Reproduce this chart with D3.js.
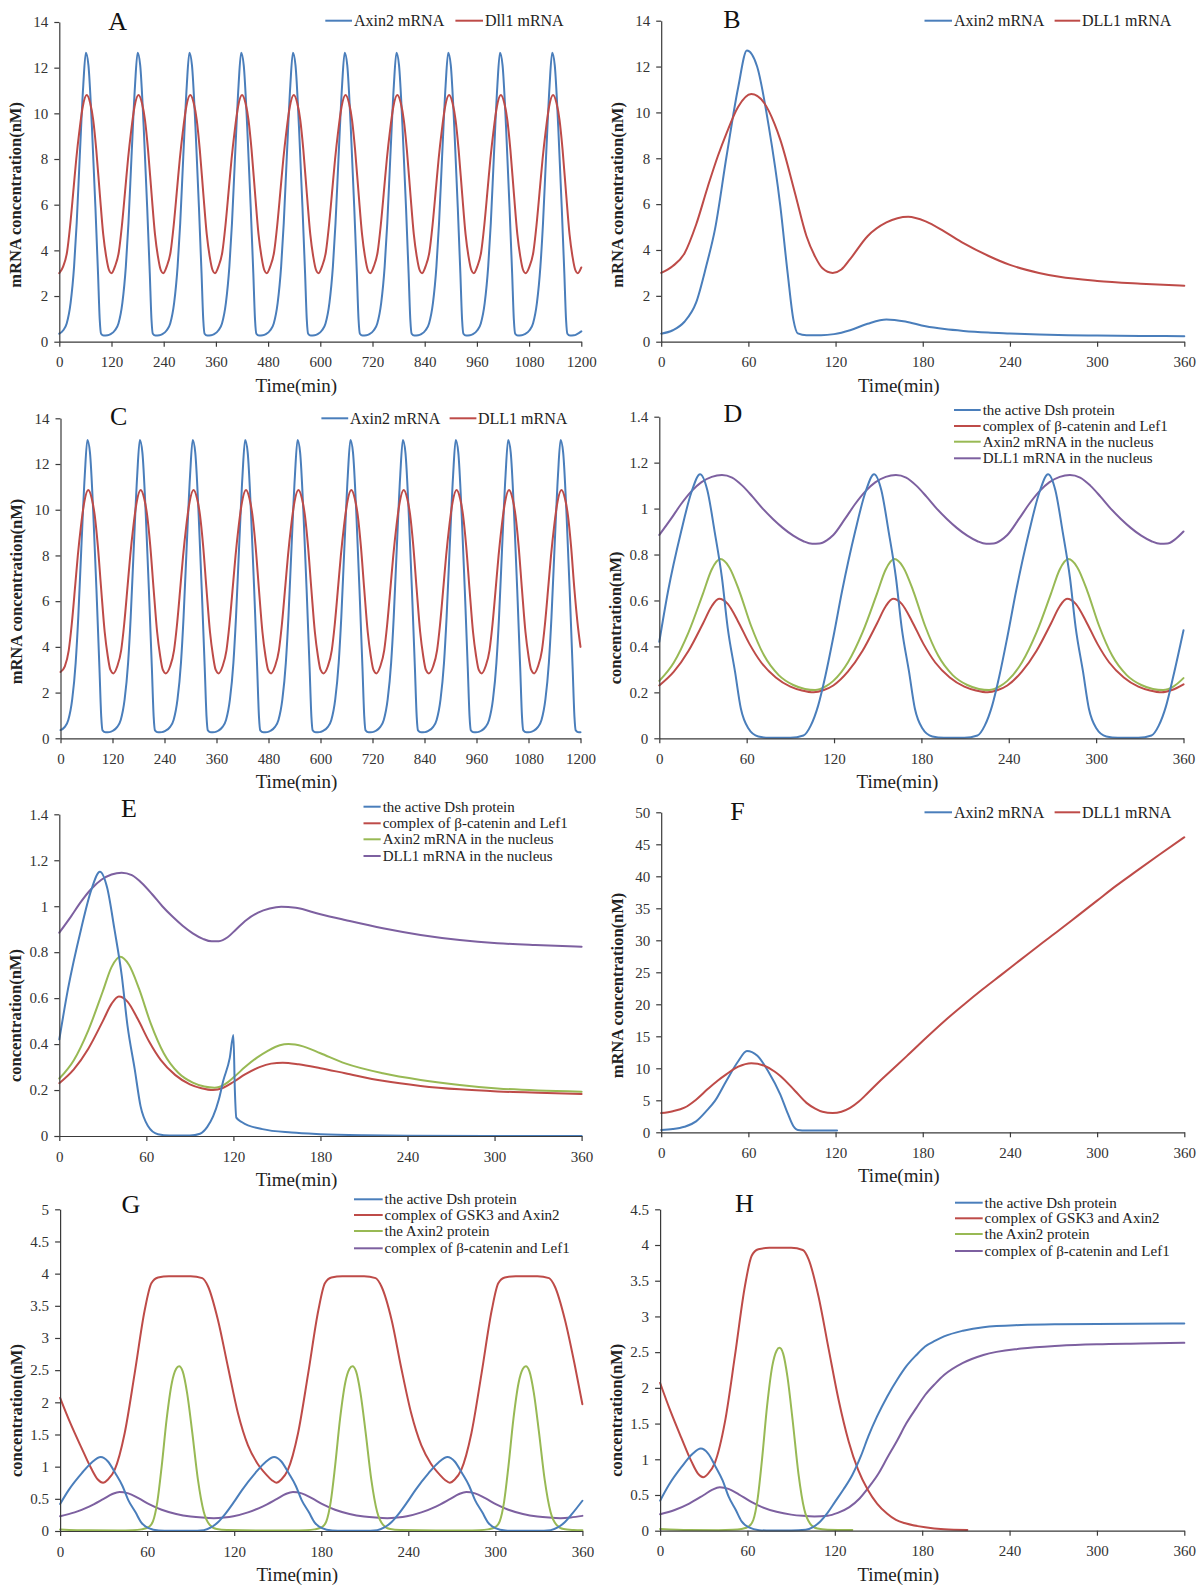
<!DOCTYPE html>
<html><head><meta charset="utf-8">
<script src="https://cdn.jsdelivr.net/npm/d3@7"></script>
<style>
body{margin:0;background:#fff;}
svg{display:block;font-family:"Liberation Serif","Times New Roman",serif;}
</style></head><body>
<svg id="c" width="1200" height="1588"></svg>
<script>
// ---------- tick labels ----------
const ticksTimeLong = [0,120,240,360,480,600,720,840,960,1080,1200];
const ticksTimeShort = [0,60,120,180,240,300,360];
const ticksMrna14 = [0,2,4,6,8,10,12,14];
const ticksMrna50 = [0,5,10,15,20,25,30,35,40,45,50];
const ticksConc14 = [0,0.2,0.4,0.6,0.8,1,1.2,1.4];
const ticksConc5 = [0,0.5,1,1.5,2,2.5,3,3.5,4,4.5,5];
const ticksConc45 = [0,0.5,1,1.5,2,2.5,3,3.5,4,4.5];

// ---------- legend labels ----------
const legendA = ["Axin2 mRNA","Dll1 mRNA"];
const legendMrna = ["Axin2 mRNA","DLL1 mRNA"];
const legendNucleus = ["the active Dsh protein","complex of \u03b2-catenin and Lef1","Axin2 mRNA in the nucleus","DLL1 mRNA in the nucleus"];
const legendProtein = ["the active Dsh protein","complex of GSK3 and Axin2","the Axin2 protein","complex of \u03b2-catenin and Lef1"];

// ---------- Panel A ----------
const axin2A = [[0,0.35],
[9,0.5],[17,0.8],[26,1.7],[34,3.3],[40,5.2],[47,8.1],[55,11.2],[61,12.65],[67,12.1],[75,9.4],[83,5.9],[89,3.0],[93,0.95],[96,0.35],[102,0.27],[111,0.28],[118,0.33],
[128,0.5],[136,0.8],[145,1.7],[153,3.3],[159,5.2],[166,8.1],[174,11.2],[180,12.65],[186,12.1],[194,9.4],[202,5.9],[208,3.0],[212,0.95],[215,0.35],[221,0.27],[230,0.28],[237,0.33],
[247,0.5],[255,0.8],[264,1.7],[272,3.3],[278,5.2],[285,8.1],[293,11.2],[299,12.65],[305,12.1],[313,9.4],[321,5.9],[327,3.0],[331,0.95],[334,0.35],[340,0.27],[349,0.28],[356,0.33],
[366,0.5],[374,0.8],[383,1.7],[391,3.3],[397,5.2],[404,8.1],[412,11.2],[418,12.65],[424,12.1],[432,9.4],[440,5.9],[446,3.0],[450,0.95],[453,0.35],[459,0.27],[468,0.28],[475,0.33],
[485,0.5],[493,0.8],[502,1.7],[510,3.3],[516,5.2],[523,8.1],[531,11.2],[537,12.65],[543,12.1],[551,9.4],[559,5.9],[565,3.0],[569,0.95],[572,0.35],[578,0.27],[587,0.28],[594,0.33],
[604,0.5],[612,0.8],[621,1.7],[629,3.3],[635,5.2],[642,8.1],[650,11.2],[656,12.65],[662,12.1],[670,9.4],[678,5.9],[684,3.0],[688,0.95],[691,0.35],[697,0.27],[706,0.28],[713,0.33],
[723,0.5],[731,0.8],[740,1.7],[748,3.3],[754,5.2],[761,8.1],[769,11.2],[775,12.65],[781,12.1],[789,9.4],[797,5.9],[803,3.0],[807,0.95],[810,0.35],[816,0.27],[825,0.28],[832,0.33],
[842,0.5],[850,0.8],[859,1.7],[867,3.3],[873,5.2],[880,8.1],[888,11.2],[894,12.65],[900,12.1],[908,9.4],[916,5.9],[922,3.0],[926,0.95],[929,0.35],[935,0.27],[944,0.28],[951,0.33],
[961,0.5],[969,0.8],[978,1.7],[986,3.3],[992,5.2],[999,8.1],[1007,11.2],[1013,12.65],[1019,12.1],[1027,9.4],[1035,5.9],[1041,3.0],[1045,0.95],[1048,0.35],[1054,0.27],[1063,0.28],[1070,0.33],
[1081,0.5],[1089,0.8],[1098,1.7],[1106,3.3],[1112,5.2],[1119,8.1],[1127,11.2],[1133,12.65],[1139,12.1],[1147,9.4],[1155,5.9],[1161,3.0],[1165,0.95],[1168,0.35],[1174,0.27],[1183,0.28],[1190,0.33],[1200,0.45]];

const dll1A = [[0,3.0],
[9,3.3],[18,3.95],[25,5.1],[33,6.75],[39,8.0],[46,9.2],[54,10.3],[63,10.8],[71,10.45],[78,9.7],[85,8.4],[93,6.5],[101,4.7],[108,3.7],[114,3.15],[120,3.0],
[128,3.3],[137,3.95],[144,5.1],[152,6.75],[158,8.0],[165,9.2],[173,10.3],[182,10.8],[190,10.45],[197,9.7],[204,8.4],[212,6.5],[220,4.7],[227,3.7],[233,3.15],[239,3.0],
[247,3.3],[256,3.95],[263,5.1],[271,6.75],[277,8.0],[284,9.2],[292,10.3],[301,10.8],[309,10.45],[316,9.7],[323,8.4],[331,6.5],[339,4.7],[346,3.7],[352,3.15],[358,3.0],
[366,3.3],[375,3.95],[382,5.1],[390,6.75],[396,8.0],[403,9.2],[411,10.3],[420,10.8],[428,10.45],[435,9.7],[442,8.4],[450,6.5],[458,4.7],[465,3.7],[471,3.15],[477,3.0],
[485,3.3],[494,3.95],[501,5.1],[509,6.75],[515,8.0],[522,9.2],[530,10.3],[539,10.8],[547,10.45],[554,9.7],[561,8.4],[569,6.5],[577,4.7],[584,3.7],[590,3.15],[596,3.0],
[604,3.3],[613,3.95],[620,5.1],[628,6.75],[634,8.0],[641,9.2],[649,10.3],[658,10.8],[666,10.45],[673,9.7],[680,8.4],[688,6.5],[696,4.7],[703,3.7],[709,3.15],[715,3.0],
[723,3.3],[732,3.95],[739,5.1],[747,6.75],[753,8.0],[760,9.2],[768,10.3],[777,10.8],[785,10.45],[792,9.7],[799,8.4],[807,6.5],[815,4.7],[822,3.7],[828,3.15],[834,3.0],
[842,3.3],[851,3.95],[858,5.1],[866,6.75],[872,8.0],[879,9.2],[887,10.3],[896,10.8],[904,10.45],[911,9.7],[918,8.4],[926,6.5],[934,4.7],[941,3.7],[947,3.15],[953,3.0],
[961,3.3],[970,3.95],[977,5.1],[985,6.75],[991,8.0],[998,9.2],[1006,10.3],[1015,10.8],[1023,10.45],[1030,9.7],[1037,8.4],[1045,6.5],[1053,4.7],[1060,3.7],[1066,3.15],[1072,3.0],
[1081,3.3],[1090,3.95],[1097,5.1],[1105,6.75],[1111,8.0],[1118,9.2],[1126,10.3],[1135,10.8],[1143,10.45],[1150,9.7],[1157,8.4],[1165,6.5],[1173,4.7],[1180,3.7],[1186,3.15],[1192,3.0],[1200,3.25]];

// ---------- Panel B ----------
const axin2B = [[0,0.35],[8,0.5],[16,0.87],[24,1.7],[31,3.3],[37,4.9],[45,8.1],[53,11.1],[59,12.7],[66,12.0],[74,9.4],[82,5.9],[87,3.0],[91,0.95],[94,0.36],[100,0.28],[110,0.28],[119,0.33],[130,0.5],[142,0.78],[155,0.97],[168,0.88],[182,0.67],[195,0.55],[208,0.47],[225,0.4],[240,0.36],[260,0.31],[280,0.28],[300,0.27],[330,0.25],[360,0.24]];
const dll1B = [[0,3.0],[8,3.3],[16,3.85],[24,5.1],[32,6.75],[39,8.1],[45,9.1],[53,10.25],[62,10.8],[71,10.4],[78,9.5],[82,8.8],[92,6.5],[100,4.6],[106,3.7],[111,3.2],[118,3.0],[124,3.15],[130,3.6],[142,4.6],[155,5.2],[170,5.45],[182,5.25],[195,4.8],[208,4.3],[225,3.75],[240,3.35],[260,3.0],[274,2.83],[300,2.65],[330,2.53],[360,2.44]];

// ---------- Panel C ----------
const axin2C = [[0,0.36],
[10,0.5],[18,0.8],[27,1.7],[35,3.3],[41,5.3],[48,8.3],[56,11.5],[62,13.05],[68,12.5],[76,9.7],[84,6.0],[90,3.0],[94,0.95],[97,0.35],[104,0.26],[113,0.27],[121,0.33],
[131,0.5],[139,0.8],[148,1.7],[156,3.3],[162,5.3],[169,8.3],[177,11.5],[183,13.05],[189,12.5],[197,9.7],[205,6.0],[211,3.0],[215,0.95],[218,0.35],[225,0.26],[234,0.27],[242,0.33],
[253,0.5],[261,0.8],[270,1.7],[278,3.3],[284,5.3],[291,8.3],[299,11.5],[305,13.05],[311,12.5],[319,9.7],[327,6.0],[333,3.0],[337,0.95],[340,0.35],[347,0.26],[356,0.27],[364,0.33],
[374,0.5],[382,0.8],[391,1.7],[399,3.3],[405,5.3],[412,8.3],[420,11.5],[426,13.05],[432,12.5],[440,9.7],[448,6.0],[454,3.0],[458,0.95],[461,0.35],[468,0.26],[477,0.27],[485,0.33],
[495,0.5],[503,0.8],[512,1.7],[520,3.3],[526,5.3],[533,8.3],[541,11.5],[547,13.05],[553,12.5],[561,9.7],[569,6.0],[575,3.0],[579,0.95],[582,0.35],[589,0.26],[598,0.27],[606,0.33],
[617,0.5],[625,0.8],[634,1.7],[642,3.3],[648,5.3],[655,8.3],[663,11.5],[669,13.05],[675,12.5],[683,9.7],[691,6.0],[697,3.0],[701,0.95],[704,0.35],[711,0.26],[720,0.27],[728,0.33],
[738,0.5],[746,0.8],[755,1.7],[763,3.3],[769,5.3],[776,8.3],[784,11.5],[790,13.05],[796,12.5],[804,9.7],[812,6.0],[818,3.0],[822,0.95],[825,0.35],[832,0.26],[841,0.27],[849,0.33],
[860,0.5],[868,0.8],[877,1.7],[885,3.3],[891,5.3],[898,8.3],[906,11.5],[912,13.05],[918,12.5],[926,9.7],[934,6.0],[940,3.0],[944,0.95],[947,0.35],[954,0.26],[963,0.27],[971,0.33],
[981,0.5],[989,0.8],[998,1.7],[1006,3.3],[1012,5.3],[1019,8.3],[1027,11.5],[1033,13.05],[1039,12.5],[1047,9.7],[1055,6.0],[1061,3.0],[1065,0.95],[1068,0.35],[1075,0.26],[1084,0.27],[1092,0.33],
[1102,0.5],[1110,0.8],[1119,1.7],[1127,3.3],[1133,5.3],[1140,8.3],[1148,11.5],[1154,13.05],[1160,12.5],[1168,9.7],[1176,6.0],[1182,3.0],[1186,0.95],[1189,0.35],[1196,0.26],[1200,0.26]];

const dll1C = [[0,2.9],
[10,3.15],[19,3.85],[26,5.0],[34,6.7],[40,8.0],[47,9.25],[55,10.35],[64,10.86],[72,10.5],[79,9.75],[86,8.45],[94,6.5],[102,4.65],[109,3.6],[115,3.0],[122,2.84],
[131,3.15],[140,3.85],[147,5.0],[155,6.7],[161,8.0],[168,9.25],[176,10.35],[185,10.86],[193,10.5],[200,9.75],[207,8.45],[215,6.5],[223,4.65],[230,3.6],[236,3.0],[243,2.84],
[253,3.15],[262,3.85],[269,5.0],[277,6.7],[283,8.0],[290,9.25],[298,10.35],[307,10.86],[315,10.5],[322,9.75],[329,8.45],[337,6.5],[345,4.65],[352,3.6],[358,3.0],[365,2.84],
[374,3.15],[383,3.85],[390,5.0],[398,6.7],[404,8.0],[411,9.25],[419,10.35],[428,10.86],[436,10.5],[443,9.75],[450,8.45],[458,6.5],[466,4.65],[473,3.6],[479,3.0],[486,2.84],
[495,3.15],[504,3.85],[511,5.0],[519,6.7],[525,8.0],[532,9.25],[540,10.35],[549,10.86],[557,10.5],[564,9.75],[571,8.45],[579,6.5],[587,4.65],[594,3.6],[600,3.0],[607,2.84],
[617,3.15],[626,3.85],[633,5.0],[641,6.7],[647,8.0],[654,9.25],[662,10.35],[671,10.86],[679,10.5],[686,9.75],[693,8.45],[701,6.5],[709,4.65],[716,3.6],[722,3.0],[729,2.84],
[738,3.15],[747,3.85],[754,5.0],[762,6.7],[768,8.0],[775,9.25],[783,10.35],[792,10.86],[800,10.5],[807,9.75],[814,8.45],[822,6.5],[830,4.65],[837,3.6],[843,3.0],[850,2.84],
[860,3.15],[869,3.85],[876,5.0],[884,6.7],[890,8.0],[897,9.25],[905,10.35],[914,10.86],[922,10.5],[929,9.75],[936,8.45],[944,6.5],[952,4.65],[959,3.6],[965,3.0],[972,2.84],
[981,3.15],[990,3.85],[997,5.0],[1005,6.7],[1011,8.0],[1018,9.25],[1026,10.35],[1035,10.86],[1043,10.5],[1050,9.75],[1057,8.45],[1065,6.5],[1073,4.65],[1080,3.6],[1086,3.0],[1093,2.84],
[1102,3.15],[1111,3.85],[1118,5.0],[1126,6.7],[1132,8.0],[1139,9.25],[1147,10.35],[1156,10.86],[1164,10.5],[1171,9.75],[1178,8.45],[1186,6.5],[1194,4.9],[1200,4.0]];

// ---------- Panels D and G (oscillating) ----------
const dshOsc = [[0,0.42],[6,0.64],[15,0.9],[22,1.07],[28,1.15],[33,1.08],[38,0.9],[43,0.7],[47,0.48],[52,0.29],[56,0.13],[61,0.045],[68,0.008],[76,0.002],[90,0.002],[99,0.012],[104,0.055],[109,0.14],[114,0.27],
[119.5,0.44],[125.5,0.64],[134.5,0.9],[141.5,1.07],[147.5,1.15],[152.5,1.08],[157.5,0.9],[162.5,0.7],[166.5,0.48],[171.5,0.29],[175.5,0.13],[180.5,0.045],[187.5,0.008],[195.5,0.002],[209.5,0.002],[218.5,0.012],[223.5,0.055],[228.5,0.14],[233.5,0.27],
[239,0.44],[245,0.64],[254,0.9],[261,1.07],[267,1.15],[272,1.08],[277,0.9],[282,0.7],[286,0.48],[291,0.29],[295,0.13],[300,0.045],[307,0.008],[315,0.002],[329,0.002],[338,0.012],[343,0.055],[348,0.14],[353,0.27],[360,0.47]];

const lefComplexOsc = [[0,0.23],[10,0.29],[20,0.38],[30,0.5],[36,0.575],[41,0.607],[47,0.585],[54,0.51],[62,0.41],[70,0.33],[80,0.265],[90,0.225],[98,0.208],[106,0.2],[113,0.21],
[119.5,0.23],[129.5,0.29],[139.5,0.38],[149.5,0.5],[155.5,0.575],[160.5,0.607],[166.5,0.585],[173.5,0.51],[181.5,0.41],[189.5,0.33],[199.5,0.265],[209.5,0.225],[217.5,0.208],[225.5,0.2],[232.5,0.21],
[239,0.23],[249,0.29],[259,0.38],[269,0.5],[275,0.575],[280,0.607],[286,0.585],[293,0.51],[301,0.41],[309,0.33],[319,0.265],[329,0.225],[337,0.208],[345,0.2],[352,0.21],[360,0.235]];

const axin2NucOsc = [[0,0.25],[10,0.33],[20,0.46],[30,0.63],[36,0.735],[42,0.78],[48,0.745],[55,0.64],[63,0.49],[72,0.36],[82,0.275],[92,0.232],[100,0.215],[107,0.21],[114,0.225],
[119.5,0.25],[129.5,0.33],[139.5,0.46],[149.5,0.63],[155.5,0.735],[161.5,0.78],[167.5,0.745],[174.5,0.64],[182.5,0.49],[191.5,0.36],[201.5,0.275],[211.5,0.232],[219.5,0.215],[226.5,0.21],[233.5,0.225],
[239,0.25],[249,0.33],[259,0.46],[269,0.63],[275,0.735],[281,0.78],[287,0.745],[294,0.64],[302,0.49],[311,0.36],[321,0.275],[331,0.232],[339,0.215],[346,0.21],[353,0.225],[360,0.262]];

const dll1NucOsc = [[0,0.885],[8,0.955],[15,1.02],[22,1.075],[29,1.115],[36,1.138],[43,1.146],[50,1.135],[57,1.1],[64,1.052],[71,1.0],[78,0.955],[85,0.915],[92,0.882],[99,0.858],[105,0.847],[110,0.848],[115,0.862],
[119.5,0.885],[127.5,0.955],[134.5,1.02],[141.5,1.075],[148.5,1.115],[155.5,1.138],[162.5,1.146],[169.5,1.135],[176.5,1.1],[183.5,1.052],[190.5,1.0],[197.5,0.955],[204.5,0.915],[211.5,0.882],[218.5,0.858],[224.5,0.847],[229.5,0.848],[234.5,0.862],
[239,0.885],[247,0.955],[254,1.02],[261,1.075],[268,1.115],[275,1.138],[282,1.146],[289,1.135],[296,1.1],[303,1.052],[310,1.0],[317,0.955],[324,0.915],[331,0.882],[338,0.858],[344,0.847],[349,0.848],[354,0.865],[360,0.9]];

const gskAxinOsc = [[0,2.07],[7,1.68],[14.6,1.3],[21.5,0.97],[26,0.8],[29.6,0.75],[33,0.8],[37.6,0.95],[44.5,1.52],[51.4,2.45],[58.3,3.43],[62.9,3.85],[67.5,3.94],[75,3.96],[90,3.96],[98,3.93],[102,3.8],[108.8,3.28],[115.7,2.55],
[122.6,1.83],[129.5,1.33],[136,1.05],[142,0.88],[146,0.79],[149,0.75],[152.5,0.8],[157,0.95],[164,1.52],[171,2.45],[178,3.43],[182.5,3.85],[187,3.94],[194.5,3.96],[209.5,3.96],[217.5,3.93],[221.5,3.8],[228.5,3.28],[235,2.55],
[242,1.83],[249,1.33],[255.5,1.05],[261.5,0.88],[265.5,0.79],[268.5,0.75],[272,0.8],[276.5,0.95],[283.5,1.52],[290.5,2.45],[297.5,3.43],[302,3.85],[306.5,3.94],[314,3.96],[329,3.96],[337,3.93],[341,3.8],[348,3.28],[355,2.55],[360,1.97]];

const axin2ProtOsc = [[0,0.025],[20,0.01],[40,0.008],[50,0.012],[56,0.025],[61,0.06],[64,0.15],[67,0.45],[70,1.0],[73.5,1.75],[77,2.3],[80,2.52],[82,2.56],[84.5,2.48],[87.5,2.15],[91,1.55],[95,0.8],[99,0.3],[103,0.1],[108,0.03],[115,0.015],
[140,0.008],[160,0.008],[169.5,0.012],[175.5,0.025],[180.5,0.06],[183.5,0.15],[186.5,0.45],[189.5,1.0],[193,1.75],[196.5,2.3],[199.5,2.52],[201.5,2.56],[204,2.48],[207,2.15],[210.5,1.55],[214.5,0.8],[218.5,0.3],[222.5,0.1],[227.5,0.03],[234.5,0.015],
[259,0.008],[279,0.008],[289,0.012],[295,0.025],[300,0.06],[303,0.15],[306,0.45],[309,1.0],[312.5,1.75],[316,2.3],[319,2.52],[321,2.56],[323.5,2.48],[326.5,2.15],[330,1.55],[334,0.8],[338,0.3],[342,0.1],[347,0.03],[354,0.015],[360,0.01]];

// ---------- Panel E ----------
const dshE = [[0,0.42],[6,0.64],[15,0.9],[22,1.07],[28,1.15],[33,1.08],[38,0.9],[43,0.7],[47,0.48],[52,0.29],[56,0.13],[61,0.045],[68,0.008],[76,0.002],[90,0.002],[97,0.01],[102,0.04],[106,0.085],[110,0.16],[113,0.24],[117.5,0.34],[120,0.44],[121,0.2],[122,0.08],[126,0.06],[140,0.03],[160,0.015],[180,0.008],[210,0.003],[240,0.001],[360,0]];
const lefComplexE = [[0,0.23],[10,0.29],[20,0.38],[30,0.5],[36,0.575],[41,0.607],[47,0.585],[54,0.51],[62,0.41],[70,0.33],[80,0.265],[90,0.225],[98,0.208],[106,0.2],[113,0.21],[120,0.235],[128,0.268],[138,0.3],[146,0.315],[154,0.319],[165,0.312],[180,0.295],[197,0.273],[223,0.24],[249,0.218],[276,0.203],[302,0.194],[330,0.188],[360,0.183]];
const axin2NucE = [[0,0.25],[10,0.33],[20,0.46],[30,0.63],[36,0.735],[42,0.78],[48,0.745],[55,0.64],[63,0.49],[72,0.36],[82,0.275],[92,0.232],[100,0.215],[107,0.21],[114,0.225],[121,0.26],[128,0.3],[136,0.34],[144,0.372],[152,0.395],[158,0.4],[168,0.39],[180,0.36],[197,0.316],[223,0.273],[249,0.244],[276,0.222],[302,0.207],[330,0.198],[360,0.193]];
const dll1NucE = [[0,0.885],[8,0.955],[15,1.02],[22,1.075],[29,1.115],[36,1.138],[43,1.146],[50,1.135],[57,1.1],[64,1.052],[71,1.0],[78,0.955],[85,0.915],[92,0.882],[99,0.858],[105,0.847],[110,0.848],[116,0.865],[122,0.9],[129,0.94],[137,0.972],[145,0.99],[153,0.998],[163,0.993],[180,0.965],[197,0.94],[223,0.904],[249,0.875],[276,0.853],[302,0.839],[328,0.831],[360,0.824]];

// ---------- Panel F ----------
const axin2F = [[0,0.35],[8,0.5],[16,0.87],[24,1.7],[31,3.3],[37,4.9],[45,8.1],[53,11.1],[59,12.7],[66,12.0],[74,9.4],[82,5.9],[87,3.0],[91,0.95],[94,0.36],[100,0.28],[110,0.28],[121,0.3]];
const dll1F = [[0,3.0],[8,3.3],[16,3.85],[24,5.1],[32,6.75],[39,8.1],[45,9.1],[53,10.25],[62,10.8],[71,10.4],[78,9.5],[82,8.8],[92,6.5],[100,4.6],[106,3.7],[111,3.2],[118,3.0],[124,3.2],[130,3.8],[136,4.8],[142,6.1],[150,7.9],[160,10.0],[169,11.9],[182,14.7],[195,17.4],[208,19.9],[221,22.3],[234,24.6],[247,26.9],[260,29.2],[274,31.6],[287,33.9],[300,36.2],[313,38.5],[327,40.8],[343,43.4],[360,46.1]];

// ---------- Panel H ----------
const dshH = [[0,0.42],[6,0.64],[15,0.9],[22,1.07],[28,1.15],[33,1.08],[38,0.9],[43,0.7],[47,0.48],[52,0.29],[56,0.13],[61,0.045],[68,0.008],[76,0.002],[90,0.002],[100,0.012],[105,0.05],[110,0.13],[115,0.25],[120,0.4],[126,0.58],[132,0.78],[138,1.05],[143,1.32],[149,1.6],[156,1.88],[163,2.12],[169,2.3],[176,2.46],[182,2.58],[189,2.66],[195,2.72],[208,2.8],[222,2.85],[248,2.88],[274,2.89],[360,2.9]];
const gskAxinH = [[0,2.07],[7,1.68],[14.6,1.3],[21.5,0.97],[26,0.8],[29.6,0.75],[33,0.8],[37.6,0.95],[44.5,1.52],[51.4,2.45],[58.3,3.43],[62.9,3.85],[67.5,3.94],[75,3.96],[90,3.96],[98,3.93],[102,3.8],[108.8,3.28],[115.7,2.55],[122.6,1.83],[129.5,1.25],[136,0.85],[142.7,0.57],[149,0.38],[155.8,0.24],[162,0.15],[169,0.1],[182,0.047],[195,0.02],[211,0.01]];
const axin2ProtH = [[0,0.025],[20,0.01],[40,0.008],[50,0.012],[56,0.025],[61,0.06],[64,0.15],[67,0.45],[70,1.0],[73.5,1.75],[77,2.3],[80,2.52],[82,2.56],[84.5,2.48],[87.5,2.15],[91,1.55],[95,0.8],[99,0.3],[103,0.1],[108,0.03],[115,0.015],[132,0.01]];
const lefComplexH = [[0,0.23],[10,0.29],[20,0.38],[30,0.5],[36,0.575],[41,0.607],[47,0.585],[54,0.51],[62,0.41],[70,0.33],[80,0.265],[90,0.225],[98,0.208],[106,0.2],[115,0.21],[122,0.25],[130,0.33],[137,0.45],[143,0.6],[150,0.8],[156,1.02],[163,1.27],[169,1.5],[176,1.72],[182,1.9],[189,2.06],[195,2.18],[208,2.35],[222,2.46],[248,2.55],[274,2.59],[300,2.61],[330,2.62],[360,2.63]];

// ---------- styling ----------
const BLUE = "#4a7ebb", RED = "#be4b48", GREEN = "#98b954", PURPLE = "#7d60a0";
const svg = d3.select("#c");

const panels = [
 {letter:"A", lx:117.7, ly:30, left:59.3, right:581.3, top:22, bottom:341.7, xMax:1200, xTicks:ticksTimeLong, yMax:14, yTicks:ticksMrna14,
  ytitle:"mRNA concentration(nM)", series:[[axin2A,BLUE],[dll1A,RED]],
  legend:{type:"row", y:20.7, labels:legendA, colors:[BLUE,RED], pos:[[325.3,352,354],[455.4,483,485]]}},
 {letter:"B", lx:732, ly:28.3, left:661.2, right:1184.3, top:20.7, bottom:341.7, xMax:360, xTicks:ticksTimeShort, yMax:14, yTicks:ticksMrna14,
  ytitle:"mRNA concentration(nM)", series:[[axin2B,BLUE],[dll1B,RED]],
  legend:{type:"row", y:20.7, labels:legendMrna, colors:[BLUE,RED], pos:[[924.5,952,954],[1054.6,1080.2,1082]]}},
 {letter:"C", lx:118.6, ly:425, left:60.5, right:580.5, top:418.3, bottom:738.3, xMax:1200, xTicks:ticksTimeLong, yMax:14, yTicks:ticksMrna14,
  ytitle:"mRNA concentration(nM)", series:[[axin2C,BLUE],[dll1C,RED]],
  legend:{type:"row", y:418.3, labels:legendMrna, colors:[BLUE,RED], pos:[[321.4,348.2,350],[449.6,476.4,478]]}},
 {letter:"D", lx:733, ly:421.7, left:659.3, right:1183.5, top:416.7, bottom:738.3, xMax:360, xTicks:ticksTimeShort, yMax:1.4, yTicks:ticksConc14,
  ytitle:"concentration(nM)", series:[[dll1NucOsc,PURPLE],[axin2NucOsc,GREEN],[lefComplexOsc,RED],[dshOsc,BLUE]],
  legend:{type:"col", x1:954, x2:980.7, tx:982.7, ys:[410,426,441.7,458.3], labels:legendNucleus, colors:[BLUE,RED,GREEN,PURPLE]}},
 {letter:"E", lx:129, ly:816.7, left:59.3, right:581.6, top:814.3, bottom:1136, xMax:360, xTicks:ticksTimeShort, yMax:1.4, yTicks:ticksConc14,
  ytitle:"concentration(nM)", series:[[dll1NucE,PURPLE],[axin2NucE,GREEN],[lefComplexE,RED],[dshE,BLUE]],
  legend:{type:"col", x1:363.5, x2:380.7, tx:382.7, ys:[806.7,823.3,839.3,856], labels:legendNucleus, colors:[BLUE,RED,GREEN,PURPLE]}},
 {letter:"F", lx:737.5, ly:820, left:661.2, right:1184.3, top:812.3, bottom:1132.3, xMax:360, xTicks:ticksTimeShort, yMax:50, yTicks:ticksMrna50,
  ytitle:"mRNA concentration(nM)", series:[[axin2F,BLUE],[dll1F,RED]],
  legend:{type:"row", y:812.3, labels:legendMrna, colors:[BLUE,RED], pos:[[924.5,952,954],[1054.6,1080.2,1082]]}},
 {letter:"G", lx:131, ly:1213.3, left:60.1, right:582.4, top:1209.3, bottom:1531, xMax:360, xTicks:ticksTimeShort, yMax:5, yTicks:ticksConc5,
  ytitle:"concentration(nM)", series:[[lefComplexOsc,PURPLE],[axin2ProtOsc,GREEN],[gskAxinOsc,RED],[dshOsc,BLUE]],
  legend:{type:"col", x1:354, x2:382.7, tx:384.6, ys:[1199.3,1215,1231,1248.3], labels:legendProtein, colors:[BLUE,RED,GREEN,PURPLE]}},
 {letter:"H", lx:744.5, ly:1211.7, left:660.1, right:1184.3, top:1209.3, bottom:1530.7, xMax:360, xTicks:ticksTimeShort, yMax:4.5, yTicks:ticksConc45,
  ytitle:"concentration(nM)", series:[[lefComplexH,PURPLE],[axin2ProtH,GREEN],[gskAxinH,RED],[dshH,BLUE]],
  legend:{type:"col", x1:955, x2:982.7, tx:984.6, ys:[1202.7,1218.3,1234,1251], labels:legendProtein, colors:[BLUE,RED,GREEN,PURPLE]}}
];

panels.forEach(p => {
  const g = svg.append("g");
  const x = d3.scaleLinear().domain([0, p.xMax]).range([p.left, p.right]);
  const y = d3.scaleLinear().domain([0, p.yMax]).range([p.bottom, p.top]);

  const line = d3.line().x(d => x(d[0])).y(d => y(d[1])).curve(d3.curveMonotoneX);
  p.series.forEach(([data, color]) => {
    g.append("path").datum(data).attr("d", line)
      .attr("fill", "none").attr("stroke", color).attr("stroke-width", 2)
      .attr("stroke-linejoin", "round").attr("stroke-linecap", "round");
  });

  const xa = g.append("g").attr("transform", `translate(0,${p.bottom})`)
    .call(d3.axisBottom(x).tickValues(p.xTicks).tickSize(5).tickSizeOuter(0).tickPadding(10).tickFormat(d => String(d)));
  const ya = g.append("g").attr("transform", `translate(${p.left},0)`)
    .call(d3.axisLeft(y).tickValues(p.yTicks).tickSize(5).tickSizeOuter(0).tickPadding(6).tickFormat(d => String(d)));
  [xa, ya].forEach(a => {
    a.attr("font-family", "Liberation Serif, Times New Roman, serif").attr("font-size", 15);
    a.selectAll("path.domain").attr("stroke", "#3a3a3a").attr("stroke-width", 1.2);
    a.selectAll(".tick line").attr("stroke", "#3a3a3a").attr("stroke-width", 1.2);
    a.selectAll(".tick text").attr("fill", "#333");
  });

  // axis titles
  g.append("text").attr("x", (p.left + p.right) / 2 - 24).attr("y", p.bottom + 50)
    .attr("text-anchor", "middle").attr("font-size", 19).attr("fill", "#222").text("Time(min)");
  g.append("text").attr("transform", `translate(${p.left - 44},${p.bottom - 54}) rotate(-90)`)
    .attr("dy", "0.35em").attr("text-anchor", "start").attr("font-size", 16.5).attr("font-weight", "bold")
    .attr("fill", "#222").text(p.ytitle);

  // panel letter
  g.append("text").attr("x", p.lx).attr("y", p.ly).attr("text-anchor", "middle")
    .attr("font-size", 26).attr("fill", "#111").text(p.letter);

  // legend
  const L = p.legend;
  if (L.type === "row") {
    L.labels.forEach((lab, i) => {
      const [a, b, t] = L.pos[i];
      g.append("line").attr("x1", a).attr("x2", b).attr("y1", L.y).attr("y2", L.y)
        .attr("stroke", L.colors[i]).attr("stroke-width", 2);
      g.append("text").attr("x", t).attr("y", L.y + 5.5).attr("font-size", 16).attr("fill", "#222").text(lab);
    });
  } else {
    L.labels.forEach((lab, i) => {
      g.append("line").attr("x1", L.x1).attr("x2", L.x2).attr("y1", L.ys[i]).attr("y2", L.ys[i])
        .attr("stroke", L.colors[i]).attr("stroke-width", 2);
      g.append("text").attr("x", L.tx).attr("y", L.ys[i] + 5).attr("font-size", 15).attr("fill", "#222").text(lab);
    });
  }
});
</script></body></html>
